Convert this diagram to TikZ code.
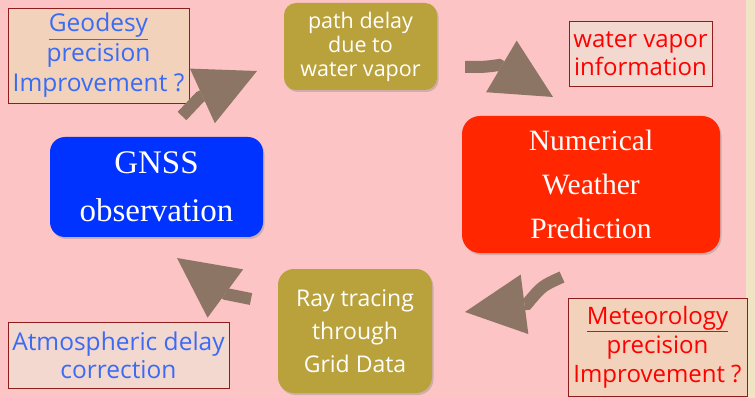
\documentclass[tikz,border=0pt]{standalone}
\usepackage{fontspec}
\setmainfont{Liberation Serif}
\newfontfamily\handfont{Open Sans}
\usetikzlibrary{arrows.meta,shadows}

\definecolor{bgpink}{RGB}{252,196,196}
\definecolor{paper}{RGB}{240,228,196}
\definecolor{peach}{RGB}{242,210,186}
\definecolor{blush}{RGB}{243,216,208}
\definecolor{boxline}{RGB}{140,30,30}
\definecolor{olive}{RGB}{185,162,60}
\definecolor{nwpred}{RGB}{255,38,0}
\definecolor{gnssblue}{RGB}{0,51,255}
\definecolor{textblue}{RGB}{58,107,245}
\definecolor{arrowbrown}{RGB}{140,117,100}

\tikzset{
  notebox/.style={draw=boxline, line width=0.8pt, inner sep=1pt, align=center},
  stepbox/.style={inner sep=2pt, align=center, text=white,
    drop shadow={shadow xshift=1.5pt, shadow yshift=-2pt, opacity=0.35}},
  fatarrow/.style={draw=arrowbrown, line width=12pt,
    -{Triangle[length=60pt,width=60pt,line width=0pt]}},
}

\begin{document}
\begin{tikzpicture}[x=1pt,y=1pt,yscale=-1,xscale=1]
\useasboundingbox (0,0) rectangle (755,398);

%Background
\fill [bgpink] (0,0) rectangle (755,398);
\fill [paper] (746,0) rectangle (755,398);

%Shape: Rounded Rectangle
\node [stepbox, fill=gnssblue, rounded corners=15pt, minimum width=213, minimum height=100,
  font={\fontsize{33}{48}\selectfont}] (gnss) at (156.5,187) {GNSS\\observation};
%Shape: Rounded Rectangle
\node [stepbox, fill=olive, rounded corners=12pt, minimum width=153, minimum height=87,
  font={\handfont\fontsize{21.5}{24}\selectfont}] (pathdelay) at (360.5,46.5) {path delay\\due to\\water vapor};
%Shape: Rounded Rectangle
\node [stepbox, fill=nwpred, rounded corners=18pt, minimum width=258, minimum height=137,
  font={\fontsize{29.5}{44}\selectfont}] (nwp) at (591,184.5) {Numerical\\Weather\\Prediction};
%Shape: Rounded Rectangle
\node [stepbox, fill=olive, rounded corners=16pt, minimum width=154, minimum height=124,
  font={\handfont\fontsize{23}{33}\selectfont}] (raytrace) at (355,331) {Ray tracing\\through\\Grid Data};

% Text Node
\node [notebox, fill=peach, text=textblue, minimum width=181, minimum height=95,
  font={\handfont\fontsize{24.5}{30}\selectfont}] (geodesy) at (98.5,55.5) {\underline{Geodesy}\\precision\\Improvement ?};
% Text Node
\node [notebox, fill=blush, text=red, minimum width=143, minimum height=65,
  font={\handfont\fontsize{24}{28}\selectfont}] (vapor) at (640.5,53.5) {water vapor\\information};
% Text Node
\node [notebox, fill=peach, text=red, minimum width=179, minimum height=98,
  font={\handfont\fontsize{24}{29}\selectfont}] (meteo) at (657.5,347) {\underline{Meteorology}\\precision\\Improvement ?};
% Text Node
\node [notebox, fill=blush, text=textblue, minimum width=221, minimum height=66,
  font={\handfont\fontsize{24.5}{28}\selectfont}] (atmos) at (118.5,355) {Atmospheric delay\\correction};

%Arrow ends
\coordinate (geoTail) at (182,116);
\coordinate (geoBase) at (200,97);
\coordinate (geoTip) at (257,71);
\coordinate (vapTail) at (465,67);
\coordinate (vapBase) at (499,65);
\coordinate (vapTip) at (553,97);
\coordinate (metTail) at (562,277);
\coordinate (metBase) at (527,304);
\coordinate (metTip) at (465,312);
\coordinate (atmTail) at (251,299);
\coordinate (atmBase) at (226,294);
\coordinate (atmTip) at (177,258);

%Curved Arrows
\draw [fatarrow] (geoTail) -- (geoBase) -- (geoTip);
\draw [fatarrow] (vapTail) .. controls (485,67) .. (vapBase) -- (vapTip);
\draw [fatarrow] (metTail) .. controls (542,286) .. (metBase) -- (metTip);
\draw [fatarrow] (atmTail) -- (atmBase) -- (atmTip);

\end{tikzpicture}
\end{document}
